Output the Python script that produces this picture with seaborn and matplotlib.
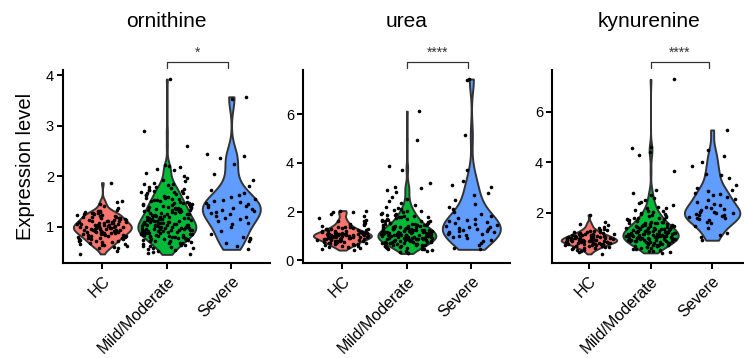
import numpy as np
import pandas as pd
import matplotlib
matplotlib.use("Agg")
import matplotlib.pyplot as plt
import seaborn as sns

groups = ["HC", "Mild/Moderate", "Severe"]
palette = ["#F8766D", "#00BA38", "#619CFF"]

orn_hc = [0.46,0.52,0.57,0.60,0.61,0.63,0.64,0.66,0.67,0.69,0.70,0.71,0.72,0.74,0.75,0.75,0.77,0.78,0.79,0.80,
          0.81,0.82,0.83,0.83,0.84,0.85,0.86,0.87,0.87,0.88,0.89,0.90,0.90,0.91,0.92,0.93,0.93,0.94,0.95,0.95,
          0.96,0.96,0.97,0.98,0.98,0.99,0.99,1.00,1.00,1.01,1.02,1.02,1.03,1.04,1.04,1.05,1.06,1.07,1.07,1.08,
          1.09,1.10,1.10,1.11,1.12,1.13,1.14,1.15,1.16,1.17,1.18,1.19,1.20,1.21,1.22,1.23,1.24,1.25,1.26,1.27,
          1.28,1.30,1.31,1.33,1.36,1.40,1.44,1.48,1.51,1.87,
          0.58,0.65,0.72,0.78,0.82,0.86,0.89,0.92,0.94,0.97,1.00,1.03,1.05,1.08,1.11,1.14,1.17,1.20,1.23,1.26,
          1.29,0.75,0.88,1.01,1.12]
orn_mild = [0.45,0.47,0.50,0.53,0.55,0.58,0.60,0.61,0.63,0.64,0.66,0.67,0.68,0.70,0.71,0.72,0.73,0.74,0.75,0.76,
            0.77,0.78,0.79,0.80,0.80,0.81,0.82,0.83,0.84,0.84,0.85,0.86,0.87,0.87,0.88,0.89,0.90,0.90,0.91,0.92,
            0.92,0.93,0.94,0.94,0.95,0.96,0.96,0.97,0.98,0.98,0.99,1.00,1.00,1.01,1.02,1.03,1.03,1.04,1.05,1.06,
            1.06,1.07,1.08,1.09,1.10,1.10,1.11,1.12,1.13,1.14,1.15,1.15,1.16,1.17,1.18,1.19,1.20,1.21,1.22,1.23,
            1.24,1.25,1.26,1.27,1.28,1.29,1.30,1.31,1.32,1.33,1.34,1.35,1.36,1.37,1.38,1.39,1.40,1.41,1.42,1.44,
            1.45,1.46,1.47,1.49,1.50,1.52,1.53,1.55,1.56,1.58,1.59,1.61,1.62,1.64,1.66,1.68,1.70,1.71,1.73,1.75,
            1.77,1.79,1.82,1.84,1.87,1.90,1.93,1.97,2.01,2.06,2.12,2.15,2.19,2.20,2.21,2.60,2.89,3.92,
            0.52,0.62,0.68,0.72,0.76,0.79,0.82,0.85,0.88,0.91,0.93,0.95,0.97,0.99,1.01,1.03,1.05,1.07,1.09,1.11,
            1.13,1.16,1.18,1.21,1.24,1.27,1.30,1.33,1.36,1.39,1.43,1.46,1.50,1.54,1.58,1.63,1.67,1.72,1.78,1.85,
            0.74,0.86,0.96,1.04,1.14,1.23,1.34,1.44,1.57,1.69,0.57,0.83,1.00,1.19,1.48]
orn_severe = [0.55,0.62,0.68,0.72,0.76,0.78,0.80,0.86,0.92,1.00,1.05,1.08,1.12,1.15,1.18,1.20,1.22,1.25,1.27,1.29,
              1.31,1.33,1.35,1.37,1.39,1.40,1.42,1.44,1.46,1.48,1.50,1.52,1.55,1.58,1.62,1.66,1.72,1.80,1.92,2.05,
              2.24,2.35,2.40,2.43,3.52,3.57]

urea_hc = [0.42,0.48,0.52,0.55,0.58,0.60,0.62,0.64,0.66,0.68,0.70,0.72,0.73,0.75,0.77,0.78,0.80,0.81,0.82,0.84,
           0.85,0.86,0.87,0.88,0.89,0.90,0.91,0.92,0.93,0.94,0.95,0.96,0.97,0.98,0.99,1.00,1.00,1.01,1.02,1.03,
           1.04,1.05,1.06,1.07,1.08,1.09,1.10,1.11,1.12,1.13,1.14,1.15,1.16,1.18,1.19,1.20,1.22,1.23,1.25,1.27,
           1.29,1.30,1.32,1.35,1.37,1.40,1.43,1.46,1.50,1.55,1.60,1.66,1.72,1.80,1.90,1.97,2.02,2.04,
           0.55,0.65,0.72,0.79,0.85,0.89,0.93,0.96,0.99,1.02,1.05,1.08,1.11,1.15,1.21,1.28,1.38,1.48,0.76,0.92,
           1.00,1.06,1.17,1.33,1.62,1.98]
urea_mild = [0.28,0.32,0.36,0.40,0.43,0.46,0.48,0.50,0.52,0.54,0.56,0.58,0.60,0.61,0.63,0.64,0.66,0.67,0.69,0.70,
             0.71,0.73,0.74,0.75,0.76,0.78,0.79,0.80,0.81,0.82,0.84,0.85,0.86,0.87,0.88,0.89,0.90,0.91,0.92,0.93,
             0.94,0.95,0.96,0.97,0.98,0.99,1.00,1.01,1.02,1.03,1.04,1.05,1.06,1.07,1.08,1.09,1.10,1.11,1.12,1.13,
             1.14,1.15,1.16,1.17,1.18,1.20,1.21,1.22,1.24,1.25,1.26,1.28,1.29,1.30,1.32,1.33,1.35,1.36,1.38,1.40,
             1.41,1.43,1.45,1.47,1.49,1.51,1.53,1.55,1.57,1.60,1.62,1.64,1.67,1.70,1.73,1.76,1.79,1.82,1.85,1.88,
             1.92,1.96,2.00,2.04,2.08,2.12,2.20,2.28,2.34,2.45,2.53,2.60,2.81,2.90,2.96,3.01,3.18,3.70,3.86,4.93,6.12,
             0.38,0.47,0.55,0.62,0.68,0.72,0.77,0.81,0.84,0.87,0.90,0.93,0.96,0.99,1.02,1.05,1.08,1.11,1.14,1.17,
             1.21,1.25,1.29,1.34,1.39,1.45,1.52,1.60,1.68,1.78,1.90,2.02,0.65,0.75,0.83,0.92,1.00,1.07,1.16,1.27,
             1.37,1.48,1.63,1.80,0.58,0.88,1.04,1.23,1.43,2.15]
urea_severe = [0.45,0.50,0.62,0.70,0.80,0.85,0.90,0.95,1.00,1.03,1.06,1.10,1.12,1.15,1.18,1.20,1.22,1.25,1.27,1.30,
               1.32,1.35,1.38,1.40,1.44,1.48,1.52,1.56,1.60,1.65,1.70,1.75,1.82,1.90,2.00,2.10,2.20,2.33,2.47,2.68,
               2.77,3.01,3.10,3.26,3.70,5.14,7.40,7.44]

kyn_hc = [0.38,0.45,0.50,0.55,0.58,0.60,0.63,0.65,0.67,0.69,0.70,0.72,0.73,0.75,0.76,0.77,0.78,0.79,0.80,0.81,
          0.82,0.83,0.84,0.85,0.86,0.87,0.88,0.88,0.89,0.90,0.91,0.92,0.92,0.93,0.94,0.95,0.96,0.97,0.98,0.99,
          1.00,1.01,1.02,1.03,1.04,1.05,1.06,1.07,1.08,1.10,1.11,1.12,1.14,1.15,1.17,1.19,1.21,1.23,1.25,1.28,
          1.30,1.33,1.36,1.40,1.45,1.52,1.55,1.65,1.93,
          0.55,0.62,0.68,0.74,0.79,0.83,0.86,0.89,0.91,0.94,0.97,1.00,1.03,1.06,1.09,1.13,1.18,1.24,1.32,0.71,
          0.85,0.93,1.01,1.16]
kyn_mild = [0.42,0.46,0.50,0.54,0.58,0.61,0.64,0.66,0.68,0.70,0.72,0.74,0.76,0.78,0.80,0.82,0.83,0.85,0.86,0.88,
            0.89,0.90,0.92,0.93,0.94,0.95,0.97,0.98,0.99,1.00,1.01,1.02,1.03,1.05,1.06,1.07,1.08,1.09,1.10,1.11,
            1.12,1.13,1.15,1.16,1.17,1.18,1.19,1.20,1.21,1.23,1.24,1.25,1.26,1.28,1.29,1.30,1.32,1.33,1.35,1.36,
            1.38,1.39,1.41,1.42,1.44,1.46,1.48,1.50,1.52,1.54,1.56,1.58,1.60,1.62,1.64,1.66,1.69,1.72,1.75,1.78,
            1.81,1.84,1.87,1.90,1.94,1.98,2.02,2.06,2.12,2.18,2.24,2.30,2.38,2.50,2.60,2.80,2.90,3.65,4.30,4.40,
            4.57,4.62,7.28,
            0.48,0.56,0.63,0.69,0.74,0.79,0.84,0.88,0.91,0.95,0.98,1.01,1.04,1.07,1.10,1.13,1.16,1.19,1.22,1.26,
            1.30,1.34,1.38,1.43,1.48,1.53,1.59,1.65,1.72,1.80,1.88,1.97,2.08,2.20,0.72,0.87,0.96,1.05,1.14,1.24,
            1.35,1.47,1.61,1.77,0.81,1.00,1.18,1.40,2.45,2.70]
kyn_severe = [0.92,1.05,1.12,1.20,1.40,1.50,1.60,1.65,1.70,1.75,1.78,1.80,1.85,1.88,1.90,1.93,1.96,1.98,2.00,2.02,
              2.05,2.10,2.15,2.20,2.25,2.30,2.35,2.42,2.50,2.55,2.62,2.70,2.75,2.80,2.85,2.90,3.00,3.10,3.40,3.50,
              3.55,3.85,4.00,4.25,4.50,5.28]

titles = ["ornithine", "urea", "kynurenine"]
signif = ["*", "****", "****"]
yticks = [[1, 2, 3, 4], [0, 2, 4, 6], [2, 4, 6]]
ylims = [(0.28, 4.10), (-0.11, 7.81), (0.02, 7.65)]
series = [(orn_hc, orn_mild, orn_severe),
          (urea_hc, urea_mild, urea_severe),
          (kyn_hc, kyn_mild, kyn_severe)]

sns.set_theme(style="ticks")
plt.rcParams["font.family"] = ["Liberation Sans", "DejaVu Sans"]
plt.rcParams["axes.linewidth"] = 1.5
plt.rcParams["text.color"] = "black"
plt.rcParams["axes.labelcolor"] = "black"
plt.rcParams["xtick.color"] = "black"
plt.rcParams["ytick.color"] = "black"

fig = plt.figure(figsize=(7.44, 3.58), dpi=100)
positions = [[0.0847, 0.2654, 0.2782, 0.539],
             [0.4073, 0.2654, 0.2782, 0.539],
             [0.7419, 0.2654, 0.2608, 0.539]]
xlims = [(-0.61, 2.6), (-0.61, 2.6), (-0.6, 2.55)]

np.random.seed(7)
for i in range(3):
    ax = fig.add_axes(positions[i])
    vals = series[i]
    df = pd.DataFrame({
        "group": np.repeat(groups, [len(v) for v in vals]),
        "value": np.concatenate([np.asarray(v, float) for v in vals]),
    })
    sns.violinplot(data=df, x="group", y="value", hue="group", order=groups,
                   hue_order=groups, palette=palette, dodge=False,
                   density_norm="width", cut=0, inner=None, width=0.9,
                   linewidth=1.4, linecolor="#333333", saturation=1,
                   bw_adjust=0.75, legend=False, ax=ax)
    sns.stripplot(data=df, x="group", y="value", order=groups, color="black",
                  size=2.6, jitter=0.4, ax=ax, zorder=5)
    ax.set_xlim(*xlims[i])
    ax.set_ylim(*ylims[i])
    ax.set_yticks(yticks[i])
    ax.set_xticks(range(3))
    ax.set_xticklabels(groups, rotation=45, ha="right", rotation_mode="anchor",
                       fontsize=11.5)
    ax.tick_params(axis="y", labelsize=10.5, length=4.5, width=1.4, pad=2)
    ax.tick_params(axis="x", length=4.5, width=1.4, pad=3)
    for s in ["top", "right"]:
        ax.spines[s].set_visible(False)
    for s in ["left", "bottom"]:
        ax.spines[s].set_color("black")
    ax.set_xlabel("")
    ax.set_ylabel("Expression level" if i == 0 else "", fontsize=14.5, labelpad=8)
    ax.set_title(titles[i], fontsize=15, pad=31)
    tr = ax.get_xaxis_transform()
    ax.plot([1.0, 1.0, 1.95, 1.95], [1.008, 1.044, 1.044, 1.008], transform=tr,
            color="#333333", lw=0.9, clip_on=False)
    ax.text(1.475, 1.069, signif[i], transform=tr, ha="center", va="baseline",
            fontsize=10, color="#333333")

fig.savefig("out.png", dpi=100)
